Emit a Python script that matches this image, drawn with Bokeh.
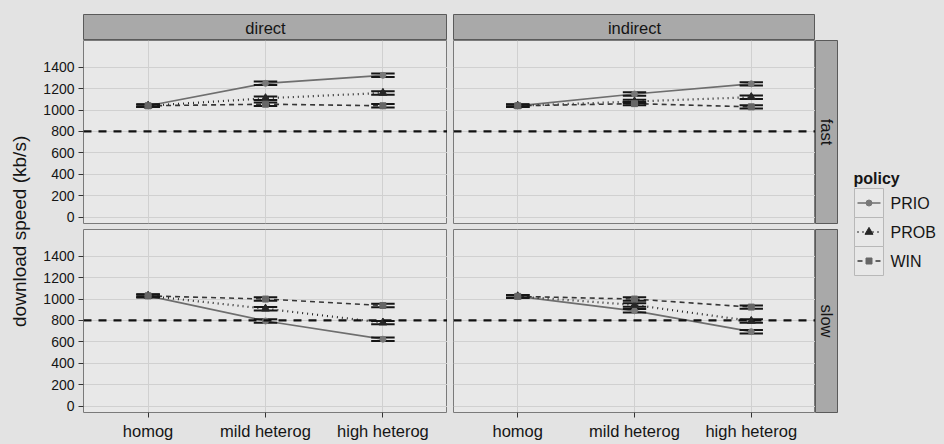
import math
from bokeh.plotting import figure
from bokeh.layouts import row, column, Spacer
from bokeh.models import Range1d, FixedTicker, ColumnDataSource, Span
from bokeh.core.properties import value
from bokeh.embed import file_html
from bokeh.resources import INLINE

# ---------------- data ----------------
categories = ["homog", "mild heterog", "high heterog"]
policies = ["PRIO", "PROB", "WIN"]
y_ticks = [0, 200, 400, 600, 800, 1000, 1200, 1400]
reference_speed = 800

direct_fast_PRIO = [1040, 1250, 1325]
direct_fast_PROB = [1040, 1110, 1160]
direct_fast_WIN = [1040, 1055, 1040]
indirect_fast_PRIO = [1040, 1150, 1245]
indirect_fast_PROB = [1040, 1080, 1120]
indirect_fast_WIN = [1040, 1060, 1030]
direct_slow_PRIO = [1030, 795, 625]
direct_slow_PROB = [1030, 910, 780]
direct_slow_WIN = [1030, 1000, 940]
indirect_slow_PRIO = [1025, 890, 695]
indirect_slow_PROB = [1025, 945, 795]
indirect_slow_WIN = [1025, 1000, 925]
error_half = [12, 16, 16]

facets = {
    ("direct", "fast"): {"PRIO": direct_fast_PRIO, "PROB": direct_fast_PROB, "WIN": direct_fast_WIN},
    ("indirect", "fast"): {"PRIO": indirect_fast_PRIO, "PROB": indirect_fast_PROB, "WIN": indirect_fast_WIN},
    ("direct", "slow"): {"PRIO": direct_slow_PRIO, "PROB": direct_slow_PROB, "WIN": direct_slow_WIN},
    ("indirect", "slow"): {"PRIO": indirect_slow_PRIO, "PROB": indirect_slow_PROB, "WIN": indirect_slow_WIN},
}

# ---------------- styles ----------------
FONT = "Liberation Sans"
BG = "#e3e3e3"
PANEL_BG = "#e8e8e8"
STRIP_BG = "#a9a9a9"
GRID = "#d0d0d0"
TEXT = "#151515"
style = {
    "PRIO": dict(color="#6e6e6e", dash="solid", width=1.7, marker="circle", mcolor="#787878", size=6),
    "PROB": dict(color="#262626", dash="1 4", width=2.2, marker="triangle", mcolor="#262626", size=8),
    "WIN": dict(color="#363636", dash="5 4", width=1.6, marker="square", mcolor="#666666", size=6),
}
xpos = [i + 1 for i in range(len(categories))]
cap = 0.1


def base_fig(width, height, **kw):
    p = figure(width=width, height=height, output_backend="svg", toolbar_location=None,
               min_border=0, border_fill_color=BG, **kw)
    return p


def make_panel(key, left, bottom, width, height, mb_left, mb_bottom):
    p = base_fig(width, height, x_range=Range1d(0.45, 3.55), y_range=Range1d(-60, 1650),
                 min_border_left=mb_left, min_border_bottom=mb_bottom,
                 background_fill_color=PANEL_BG)
    p.outline_line_color = "#7a7a7a"
    p.outline_line_width = 1
    p.xaxis.ticker = FixedTicker(ticks=xpos)
    p.xaxis.major_label_overrides = {x: c for x, c in zip(xpos, categories)}
    p.yaxis.ticker = FixedTicker(ticks=y_ticks)
    p.xgrid.ticker = FixedTicker(ticks=xpos)
    p.ygrid.ticker = FixedTicker(ticks=y_ticks)
    p.xgrid.grid_line_color = GRID
    p.ygrid.grid_line_color = GRID
    p.ygrid.minor_grid_line_color = None
    for ax in (p.xaxis[0], p.yaxis[0]):
        ax.axis_line_color = None
        ax.major_tick_in = 0
        ax.major_tick_out = 5
        ax.minor_tick_out = 0
        ax.minor_tick_in = 0
        ax.major_tick_line_color = "#333333"
        ax.major_label_text_font = FONT
        ax.major_label_text_color = TEXT
        ax.major_label_standoff = 4
    p.yaxis.major_label_text_font_size = "14px"
    p.xaxis.major_label_text_font_size = "16.5px"
    p.xaxis.visible = bottom
    p.yaxis.visible = left

    p.add_layout(Span(location=reference_speed, dimension="width", line_color="#111111",
                      line_width=2.2, line_dash="8 7"))
    series = facets[key]
    for pol in policies:
        st = style[pol]
        ys = series[pol]
        p.line(xpos, ys, line_color=st["color"], line_width=st["width"], line_dash=st["dash"])
    for pol in policies:
        ys = series[pol]
        lo = [y - e for y, e in zip(ys, error_half)]
        hi = [y + e for y, e in zip(ys, error_half)]
        src = ColumnDataSource(dict(x=xpos, x0=[x - cap for x in xpos], x1=[x + cap for x in xpos],
                                    lo=lo, hi=hi))
        p.segment(x0="x0", x1="x1", y0="lo", y1="lo", source=src, line_color="#161616", line_width=2)
        p.segment(x0="x0", x1="x1", y0="hi", y1="hi", source=src, line_color="#161616", line_width=2)
        p.segment(x0="x", x1="x", y0="lo", y1="hi", source=src, line_color="#161616", line_width=1.6)
    for pol in policies:
        st = style[pol]
        p.scatter(xpos, series[pol], marker=st["marker"], size=st["size"],
                  fill_color=st["mcolor"], line_color=st["mcolor"])
    return p


def make_strip(label, width, height, mb_top=0, mb_bottom=0, vertical=False):
    p = base_fig(width, height, x_range=Range1d(0, 1), y_range=Range1d(0, 1),
                 x_axis_type=None, y_axis_type=None, min_border_top=mb_top,
                 min_border_bottom=mb_bottom, background_fill_color=STRIP_BG)
    p.outline_line_color = "#5a5a5a"
    p.text(x=[0.5], y=[0.5], text=[label], text_align="center", text_baseline="middle",
           angle=(-math.pi / 2 if vertical else 0), text_font=value(FONT),
           text_font_size=value("16.5px"), text_color=TEXT)
    return p


# ---------------- layout ----------------
PW_L, PW_R, PH = 364, 362, 183
AX_L, GAP, STRIP_W, AX_B = 48, 6, 23, 32

ylab = base_fig(35, 444, x_range=Range1d(0, 1), y_range=Range1d(0, 1),
                x_axis_type=None, y_axis_type=None, background_fill_color=BG)
ylab.outline_line_color = None
ylab.text(x=[0.55], y=[0.48], text=["download speed (kb/s)"], angle=math.pi / 2,
          text_align="center", text_baseline="middle", text_font=value(FONT),
          text_font_size=value("19px"), text_color=TEXT)

strip_row = row(Spacer(width=AX_L, height=40),
                make_strip("direct", PW_L, 40, mb_top=14),
                Spacer(width=GAP, height=40),
                make_strip("indirect", PW_R, 40, mb_top=14),
                Spacer(width=STRIP_W, height=40))
top_row = row(make_panel(("direct", "fast"), True, False, AX_L + PW_L, PH + GAP, AX_L, GAP),
              Spacer(width=GAP, height=PH + GAP),
              make_panel(("indirect", "fast"), False, False, PW_R, PH + GAP, 0, GAP),
              make_strip("fast", STRIP_W, PH + GAP, mb_bottom=GAP, vertical=True))
bot_row = row(make_panel(("direct", "slow"), True, True, AX_L + PW_L, PH + AX_B, AX_L, AX_B),
              Spacer(width=GAP, height=PH + AX_B),
              make_panel(("indirect", "slow"), False, True, PW_R, PH + AX_B, 0, AX_B),
              make_strip("slow", STRIP_W, PH + AX_B, mb_bottom=AX_B, vertical=True))
main = column(strip_row, top_row, bot_row)

# legend
LW = 106
leg = base_fig(LW, 444, x_range=Range1d(0, LW), y_range=Range1d(444, 0),
               x_axis_type=None, y_axis_type=None, background_fill_color=BG)
leg.outline_line_color = None
key_left, key_w, key_top, key_h = 16, 29, 188, 29
leg.text(x=[key_left - 1], y=[key_top - 10], text=["policy"], text_align="left",
         text_baseline="middle", text_font=value(FONT), text_font_size=value("16px"),
         text_font_style="bold", text_color=TEXT)
for i, pol in enumerate(policies):
    st = style[pol]
    yc = key_top + key_h * (i + 0.5)
    xc = key_left + key_w / 2
    leg.rect(x=[xc], y=[yc], width=key_w, height=key_h, fill_color=PANEL_BG,
             line_color="#b8b8b8", line_width=1)
    leg.line([key_left + 3, key_left + key_w - 3], [yc, yc], line_color=st["color"],
             line_width=st["width"], line_dash=st["dash"])
    leg.scatter([xc], [yc], marker=st["marker"], size=st["size"],
                fill_color=st["mcolor"], line_color=st["mcolor"])
    leg.text(x=[key_left + key_w + 7], y=[yc], text=[pol], text_align="left",
             text_baseline="middle", text_font=value(FONT), text_font_size=value("16px"),
             text_color=TEXT)

root = row(ylab, main, leg, styles={"background-color": BG})

open("out.html", "w").write(file_html(root, INLINE))
